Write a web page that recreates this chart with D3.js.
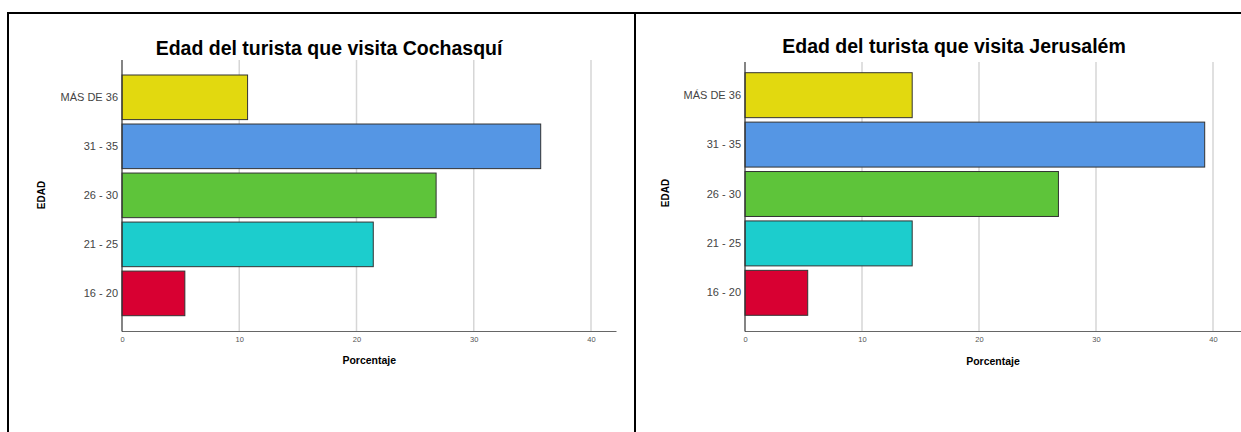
<!DOCTYPE html>
<html>
<head>
<meta charset="utf-8">
<script src="https://cdn.jsdelivr.net/npm/d3@7"></script>
<style>
  html, body { margin: 0; padding: 0; background: #fff; }
  svg { display: block; }
</style>
</head>
<body>
<svg id="chart" width="1241" height="432"></svg>
<script>
// ---- data ----
const categories = ["MÁS DE 36", "31 - 35", "26 - 30", "21 - 25", "16 - 20"];
const barColors = ["#e2d90f", "#5596e4", "#5ec43a", "#1ccdcd", "#d80032"];
const cochasquiValues = [10.71, 35.71, 26.79, 21.43, 5.36];
const jerusalemValues = [14.29, 39.29, 26.79, 14.29, 5.36];
const xTicks = [0, 10, 20, 30, 40];
const titles = ["Edad del turista que visita Cochasquí", "Edad del turista que visita Jerusalém"];
const yAxisTitle = "EDAD";
const xAxisTitle = "Porcentaje";

const svg = d3.select("#chart");

// frame lines
const frame = svg.append("g").attr("stroke", "#000").attr("stroke-width", 2);
frame.append("line").attr("x1", 7).attr("x2", 1241).attr("y1", 13).attr("y2", 13);
frame.append("line").attr("x1", 8).attr("x2", 8).attr("y1", 12).attr("y2", 432);
frame.append("line").attr("x1", 635).attr("x2", 635).attr("y1", 12).attr("y2", 432);

const panels = [
  { values: cochasquiValues, title: titles[0], x0: 122, x40: 591, axisEnd: 616.5,
    gridTop: 60, axisY: 331.5, bandTop: 75, bandBottom: 315.7,
    titleX: 329, titleY: 55, edadX: 45, edadY: 195, pctY: 364 },
  { values: jerusalemValues, title: titles[1], x0: 745, x40: 1213, axisEnd: 1241,
    gridTop: 62, axisY: 331.5, bandTop: 72.7, bandBottom: 315.3,
    titleX: 954, titleY: 53, edadX: 669, edadY: 193, pctY: 365 }
];

panels.forEach(p => {
  const x = d3.scaleLinear().domain([0, 40]).range([p.x0, p.x40]);
  const y = d3.scaleBand().domain(categories).range([p.bandTop, p.bandBottom])
    .paddingInner(0.09).paddingOuter(0);
  const g = svg.append("g");

  // gridlines
  g.append("g").selectAll("line").data(xTicks.filter(t => t > 0)).join("line")
    .attr("x1", d => x(d)).attr("x2", d => x(d))
    .attr("y1", p.gridTop).attr("y2", p.axisY)
    .attr("stroke", "#d6d6d6").attr("stroke-width", 1.5);

  // bars
  g.append("g").selectAll("rect").data(categories).join("rect")
    .attr("x", x(0))
    .attr("y", d => y(d))
    .attr("width", (d, i) => x(p.values[i]) - x(0))
    .attr("height", y.bandwidth())
    .attr("fill", (d, i) => barColors[i])
    .attr("stroke", "#333")
    .attr("stroke-width", 1);

  // x axis
  const xAxis = d3.axisBottom(x).tickValues(xTicks).tickSize(0).tickPadding(5)
    .tickFormat(d3.format("d"));
  const xa = g.append("g").attr("transform", `translate(0,${p.axisY})`).call(xAxis);
  xa.select(".domain").remove();
  xa.selectAll("text").attr("font-family", "Liberation Sans, Arial, sans-serif")
    .attr("font-size", 7.5).attr("fill", "#555");
  g.append("line").attr("x1", x(0)).attr("x2", p.axisEnd)
    .attr("y1", p.axisY).attr("y2", p.axisY)
    .attr("stroke", "#666").attr("stroke-width", 1.2);

  // y axis
  const yAxis = d3.axisLeft(y).tickSize(0).tickPadding(4);
  const ya = g.append("g").attr("transform", `translate(${x(0)},0)`).call(yAxis);
  ya.select(".domain").remove();
  ya.selectAll("text").attr("font-family", "Liberation Sans, Arial, sans-serif")
    .attr("font-size", 11).attr("fill", "#444");
  g.append("line").attr("x1", x(0)).attr("x2", x(0))
    .attr("y1", p.gridTop).attr("y2", p.axisY)
    .attr("stroke", "#333").attr("stroke-width", 1.2);

  // titles
  g.append("text").attr("x", p.titleX).attr("y", p.titleY)
    .attr("text-anchor", "middle")
    .attr("font-family", "Liberation Sans, Arial, sans-serif")
    .attr("font-weight", "bold").attr("font-size", 19.5).attr("fill", "#000")
    .text(p.title);

  g.append("text")
    .attr("transform", `translate(${p.edadX},${p.edadY}) rotate(-90)`)
    .attr("text-anchor", "middle")
    .attr("font-family", "Liberation Sans, Arial, sans-serif")
    .attr("font-weight", "bold").attr("font-size", 10).attr("fill", "#000")
    .text(yAxisTitle);

  g.append("text")
    .attr("x", (x(0) + p.axisEnd) / 2).attr("y", p.pctY)
    .attr("text-anchor", "middle")
    .attr("font-family", "Liberation Sans, Arial, sans-serif")
    .attr("font-weight", "bold").attr("font-size", 10.5).attr("fill", "#000")
    .text(xAxisTitle);
});
</script>
</body>
</html>
